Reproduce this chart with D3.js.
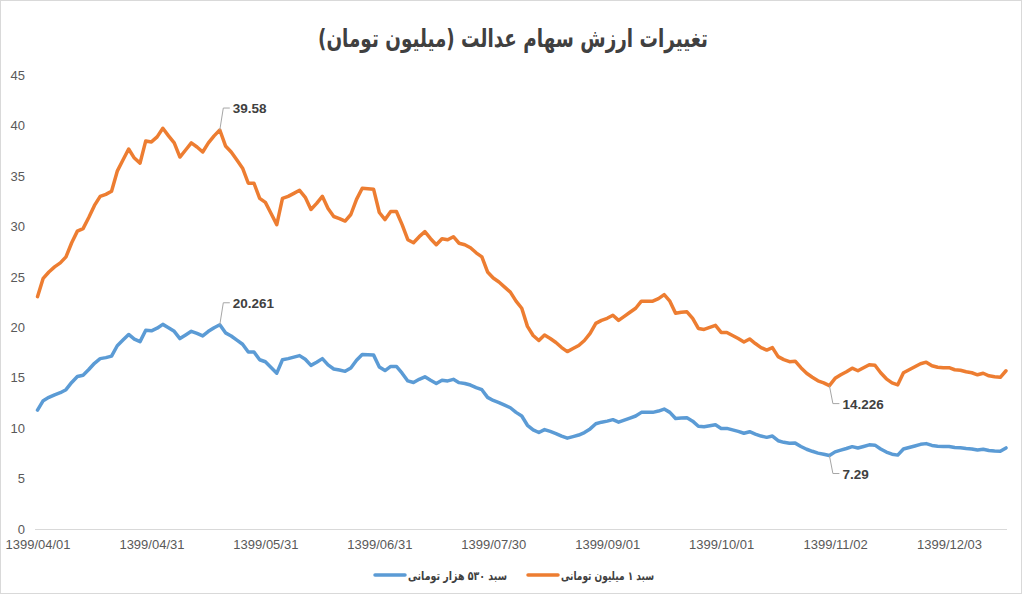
<!DOCTYPE html>
<html>
<head>
<meta charset="utf-8">
<script src="https://cdn.jsdelivr.net/npm/d3@7/dist/d3.min.js"></script>
<style>
    html, body { margin: 0; padding: 0; background: #fff; }
    #chart { width: 1024px; height: 597px; }
</style>
</head>
<body>
<div id="chart"></div>
<script>
// tick labels on the category axis (one every 20 trading days)
var tickLabels = ['1399/04/01', '1399/04/31', '1399/05/31', '1399/06/31', '1399/07/30',
    '1399/09/01', '1399/10/01', '1399/11/02', '1399/12/03'];
var tickEvery = 20;

var seriesNames = ['سبد ۵۳۰ هزار تومانی', 'سبد ۱ میلیون تومانی'];

// سبد ۱ میلیون تومانی
var basket1m = [
    23.05, 24.87, 25.5, 26.0, 26.4, 27.0, 28.4, 29.55, 29.8, 30.9,
    32.1, 33.0, 33.2, 33.5, 35.5, 36.6, 37.7, 36.8, 36.3, 38.5,
    38.4, 38.9, 39.75, 39.0, 38.3, 36.9, 37.6, 38.3, 37.9, 37.4,
    38.3, 39.0, 39.58, 38.0, 37.4, 36.6, 35.8, 34.3, 34.3, 32.8,
    32.4, 31.3, 30.2, 32.8, 33.0, 33.3, 33.6, 32.9, 31.7, 32.3,
    33.0, 31.8, 31.0, 30.8, 30.55, 31.2, 32.7, 33.8, 33.75, 33.7,
    31.4, 30.7, 31.5, 31.5, 30.2, 28.7, 28.4, 29.0, 29.5, 28.8,
    28.2, 28.8, 28.7, 29.0, 28.35, 28.2, 27.9, 27.4, 27.0, 25.5,
    24.9, 24.5, 24.0, 23.5, 22.6, 21.9, 20.1, 19.2, 18.7, 19.25,
    18.9, 18.5, 18.0, 17.6, 17.9, 18.2, 18.7, 19.4, 20.4, 20.7,
    20.9, 21.2, 20.7, 21.1, 21.5, 21.9, 22.6, 22.6, 22.6, 22.85,
    23.25, 22.6, 21.4, 21.5, 21.55, 20.9, 19.9, 19.8, 20.0, 20.2,
    19.5, 19.5, 19.2, 18.9, 18.55, 18.85, 18.4, 18.0, 17.75, 18.0,
    17.1, 16.8, 16.6, 16.65, 16.0, 15.45, 15.05, 14.7, 14.5, 14.226,
    14.95, 15.3, 15.6, 15.95, 15.7, 16.0, 16.3, 16.25, 15.5, 14.9,
    14.5, 14.3, 15.5, 15.8, 16.1, 16.4, 16.55, 16.2, 16.05, 16.0,
    16.0, 15.8, 15.75, 15.6, 15.5, 15.3, 15.45, 15.2, 15.1, 15.05,
    15.7
];

// سبد ۵۳۰ هزار تومانی
var basket530 = [
    11.80, 12.73, 13.06, 13.31, 13.52, 13.82, 14.54, 15.13, 15.26, 15.82,
    16.44, 16.90, 17.00, 17.15, 18.18, 18.74, 19.30, 18.84, 18.59, 19.71,
    19.66, 19.92, 20.30, 19.97, 19.61, 18.89, 19.25, 19.61, 19.40, 19.15,
    19.61, 19.97, 20.261, 19.46, 19.15, 18.74, 18.33, 17.56, 17.56, 16.79,
    16.59, 16.03, 15.46, 16.79, 16.90, 17.05, 17.20, 16.84, 16.23, 16.54,
    16.90, 16.28, 15.87, 15.77, 15.64, 15.97, 16.74, 17.31, 17.28, 17.25,
    16.08, 15.72, 16.13, 16.13, 15.46, 14.69, 14.54, 14.85, 15.10, 14.75,
    14.44, 14.75, 14.69, 14.85, 14.52, 14.44, 14.28, 14.03, 13.82, 13.06,
    12.75, 12.54, 12.29, 12.03, 11.57, 11.21, 10.29, 9.83, 9.57, 9.86,
    9.68, 9.47, 9.22, 9.01, 9.16, 9.32, 9.57, 9.93, 10.44, 10.60,
    10.70, 10.85, 10.60, 10.80, 11.01, 11.21, 11.57, 11.57, 11.57, 11.70,
    11.90, 11.57, 10.96, 11.01, 11.03, 10.70, 10.19, 10.14, 10.24, 10.34,
    9.98, 9.98, 9.83, 9.68, 9.50, 9.65, 9.42, 9.22, 9.09, 9.22,
    8.76, 8.60, 8.50, 8.52, 8.19, 7.91, 7.71, 7.53, 7.42, 7.29,
    7.65, 7.83, 7.99, 8.17, 8.04, 8.19, 8.35, 8.32, 7.94, 7.63,
    7.42, 7.33, 7.94, 8.09, 8.24, 8.40, 8.47, 8.29, 8.22, 8.19,
    8.19, 8.09, 8.06, 7.99, 7.94, 7.83, 7.91, 7.78, 7.73, 7.71,
    8.04
];

// labelled points: series, index, text
var callouts = [
    { s: 1, i: 32, text: '39.58', dir: -1 },
    { s: 0, i: 32, text: '20.261', dir: -1 },
    { s: 1, i: 139, text: '14.226', dir: 1 },
    { s: 0, i: 139, text: '7.29', dir: 1 }
];

(function (d3) {
    'use strict';

    var width = 1024,
        height = 597,
        colors = ['#5B9BD5', '#ED7D31'],
        series = [basket530, basket1m],
        textFont = '"Liberation Sans", Arial, sans-serif',
        faFont = '"DejaVu Sans", sans-serif';

    var svg = d3.select('#chart')
        .append('svg')
        .attr('width', width)
        .attr('height', height);

    // chart frame
    svg.append('rect')
        .attr('x', 0.5).attr('y', 0.5)
        .attr('width', 1021).attr('height', 593)
        .attr('fill', '#fff')
        .attr('stroke', '#d9d9d9');

    var x = d3.scaleLinear()
        .domain([0, basket1m.length - 1])
        .range([37.5, 1006]);

    var y = d3.scaleLinear()
        .domain([0, 45])
        .range([529, 75.4]);

    // title
    svg.append('text')
        .attr('x', 513)
        .attr('y', 47)
        .attr('text-anchor', 'middle')
        .attr('textLength', 390)
        .attr('lengthAdjust', 'spacingAndGlyphs')
        .style('font-family', faFont)
        .style('font-weight', 'bold')
        .style('font-size', '25px')
        .style('fill', '#404040')
        .text('تغییرات ارزش سهام عدالت (میلیون تومان)');

    // y axis (labels only)
    var yAxis = d3.axisLeft(y)
        .tickValues(d3.range(0, 46, 5))
        .tickSize(0)
        .tickPadding(0);

    var gy = svg.append('g')
        .attr('transform', 'translate(25,0)')
        .call(yAxis);
    gy.select('.domain').remove();
    gy.selectAll('text')
        .style('font-family', textFont)
        .style('font-size', '13px')
        .style('fill', '#595959');

    // x axis
    var xAxis = d3.axisBottom(x)
        .tickValues(tickLabels.map(function (d, k) { return k * tickEvery; }))
        .tickFormat(function (d) { return tickLabels[d / tickEvery]; })
        .tickSize(0)
        .tickPadding(11);

    var gx = svg.append('g')
        .attr('transform', 'translate(0,529)')
        .call(xAxis);
    gx.select('.domain')
        .attr('d', 'M35,0.5H1007')
        .attr('stroke', '#d9d9d9');
    gx.selectAll('text')
        .style('font-family', textFont)
        .style('font-size', '13px')
        .style('fill', '#595959');

    // lines
    var line = d3.line()
        .x(function (d, i) { return x(i); })
        .y(function (d) { return y(d); });

    svg.selectAll('path.series')
        .data(series)
        .enter()
        .append('path')
        .attr('class', 'series')
        .attr('d', line)
        .attr('fill', 'none')
        .attr('stroke', function (d, k) { return colors[k]; })
        .attr('stroke-width', 3.5)
        .attr('stroke-linejoin', 'round')
        .attr('stroke-linecap', 'round');

    // data labels with leader lines
    callouts.forEach(function (c) {
        var px = x(c.i),
            py = y(series[c.s][c.i]),
            ly = c.dir < 0 ? py - 22 : py + 18;

        svg.append('path')
            .attr('d', 'M' + px + ',' + py + 'L' + (px + 3.5) + ',' + ly + 'H' + (px + 10))
            .attr('fill', 'none')
            .attr('stroke', '#a6a6a6')
            .attr('stroke-width', 1);

        svg.append('text')
            .attr('x', px + 13)
            .attr('y', ly + 5)
            .style('font-family', textFont)
            .style('font-weight', 'bold')
            .style('font-size', '13.5px')
            .style('fill', '#404040')
            .text(c.text);
    });

    // legend: swatch then label, label widths as in the picture
    var legendX = [375, 528],
        legendW = [99, 93];
    var legend = svg.selectAll('g.legend')
        .data(seriesNames)
        .enter()
        .append('g')
        .attr('class', 'legend')
        .attr('transform', function (d, k) { return 'translate(' + legendX[k] + ',575)'; });

    legend.append('line')
        .attr('x1', 0).attr('x2', 30)
        .attr('stroke', function (d, k) { return colors[k]; })
        .attr('stroke-width', 3.5)
        .attr('stroke-linecap', 'round');

    legend.append('text')
        .attr('x', 33)
        .attr('y', 4.5)
        .attr('text-anchor', 'start')
        .attr('textLength', function (d, k) { return legendW[k]; })
        .attr('lengthAdjust', 'spacingAndGlyphs')
        .style('font-family', faFont)
        .style('font-weight', 'bold')
        .style('font-size', '12px')
        .style('fill', '#404040')
        .text(function (d) { return d; });

})(d3);
</script>
</body>
</html>
